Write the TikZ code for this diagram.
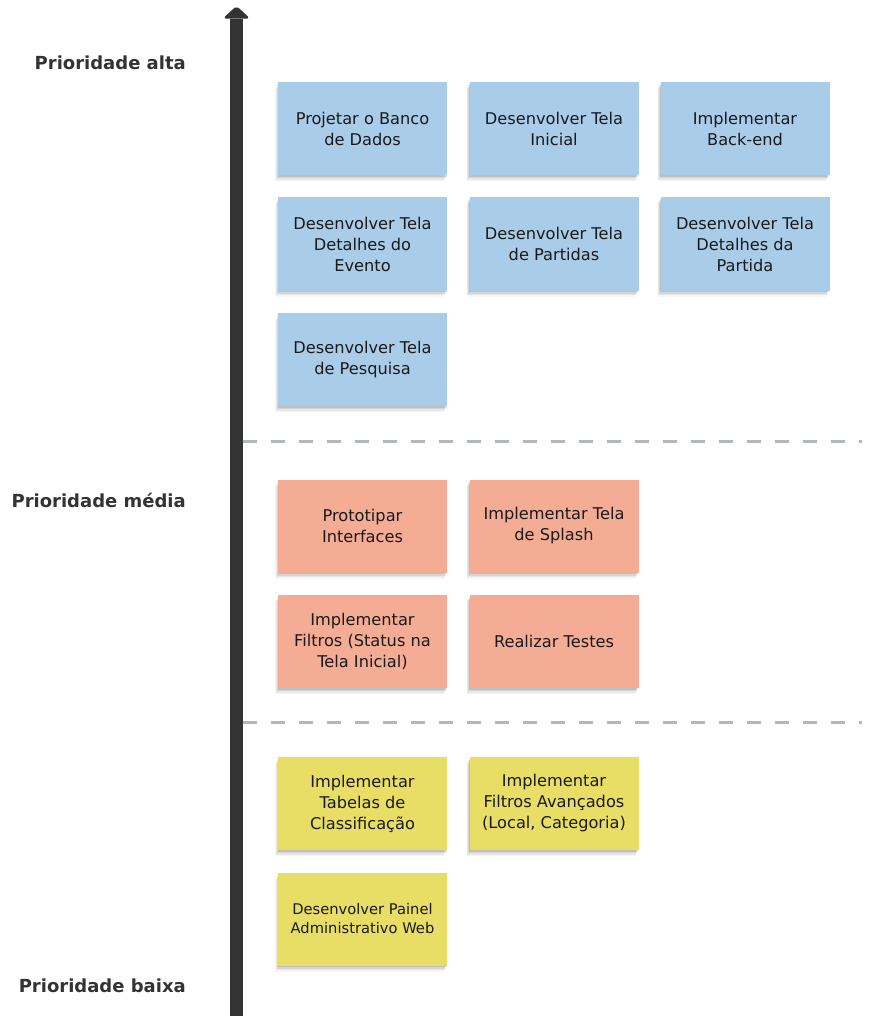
\documentclass[tikz,border=0pt]{standalone}
\usepackage{fontspec}
\setmainfont{DejaVu Sans}
\usetikzlibrary{shadows}
\definecolor{axisgray}{HTML}{333333}
\definecolor{dashgray}{HTML}{B2B8B8}
\definecolor{noteblue}{HTML}{A9CCE9}
\definecolor{notered}{HTML}{F4AC94}
\definecolor{noteyellow}{HTML}{E8DD65}
\definecolor{notetext}{HTML}{1A1A1A}
\tikzset{
  soft shadow/.style={
    general shadow={shadow xshift=-3pt, shadow yshift=-6pt, opacity=0.04, fill=black},
    general shadow={shadow xshift=-2.5pt, shadow yshift=-4.5pt, opacity=0.06, fill=black},
    general shadow={shadow xshift=-1.5pt, shadow yshift=-3pt, opacity=0.08, fill=black},
    general shadow={shadow xshift=-0.5pt, shadow yshift=-1.5pt, opacity=0.10, fill=black}},
  note/.style={minimum width=169pt, minimum height=93pt, inner sep=0pt, align=center,
    text=notetext, font=\fontsize{16.2}{21}\selectfont, soft shadow},
  blue note/.style={note, fill=noteblue},
  red note/.style={note, fill=notered},
  yellow note/.style={note, fill=noteyellow},
  level label/.style={anchor=east, inner sep=0pt, text=axisgray, font=\fontsize{18}{22}\selectfont\bfseries},
  axis line/.style={draw=axisgray, line width=13pt},
  axis head/.style={fill=axisgray, draw=axisgray, line width=1.5pt, line join=round, rounded corners=2pt},
  separator/.style={draw=dashgray, line width=3pt, dash pattern=on 14pt off 14pt}
}
\begin{document}
\begin{tikzpicture}[x=1pt, y=-1pt]
\useasboundingbox (0,0) rectangle (875,1016);
% axis
\coordinate (axisbot) at (236.5,1020);
\coordinate (axistop) at (236.5,18);
\draw[axis line] (axisbot) -- ([yshift=-1pt]axistop);
\fill[axis head] ([xshift=-12pt]axistop) -- ([yshift=11pt]axistop) -- ([xshift=12pt]axistop) -- cycle;
% separators
\coordinate (sepAa) at (243,441);
\coordinate (sepAb) at (862,441);
\coordinate (sepBa) at (243,722);
\coordinate (sepBb) at (862,722);
\draw[separator] (sepAa) -- (sepAb);
\draw[separator] (sepBa) -- (sepBb);
% labels
\node[level label] (alta) at (186,63) {Prioridade alta};
\node[level label] (media) at (186,500) {Prioridade média};
\node[level label] (baixa) at (186,986) {Prioridade baixa};
% high priority
\node[blue note] (n1) at (362.5,129) {Projetar o Banco\\de Dados};
\node[blue note] (n2) at (554,129) {Desenvolver Tela\\Inicial};
\node[blue note] (n3) at (745,129) {Implementar\\Back-end};
\node[blue note] (n4) at (362.5,244) {Desenvolver Tela\\Detalhes do\\Evento};
\node[blue note] (n5) at (554,244) {Desenvolver Tela\\de Partidas};
\node[blue note] (n6) at (745,244) {Desenvolver Tela\\Detalhes da\\Partida};
\node[blue note] (n7) at (362.5,359.5) {Desenvolver Tela\\de Pesquisa};
% medium priority
\node[red note] (n8) at (362.5,526) {Prototipar\\Interfaces};
\node[red note] (n9) at (554,526) {Implementar Tela\\de Splash};
\node[red note] (n10) at (362.5,641.5) {Implementar\\Filtros (Status na\\Tela Inicial)};
\node[red note] (n11) at (554,641.5) {Realizar Testes};
% low priority
\node[yellow note] (n12) at (362.5,803.5) {Implementar\\Tabelas de\\Classificação};
\node[yellow note] (n13) at (554,803.5) {Implementar\\Filtros Avançados\\(Local, Categoria)};
\node[yellow note, font=\fontsize{14.7}{19}\selectfont] (n14) at (362.5,919) {Desenvolver Painel\\Administrativo Web};
\end{tikzpicture}
\end{document}
